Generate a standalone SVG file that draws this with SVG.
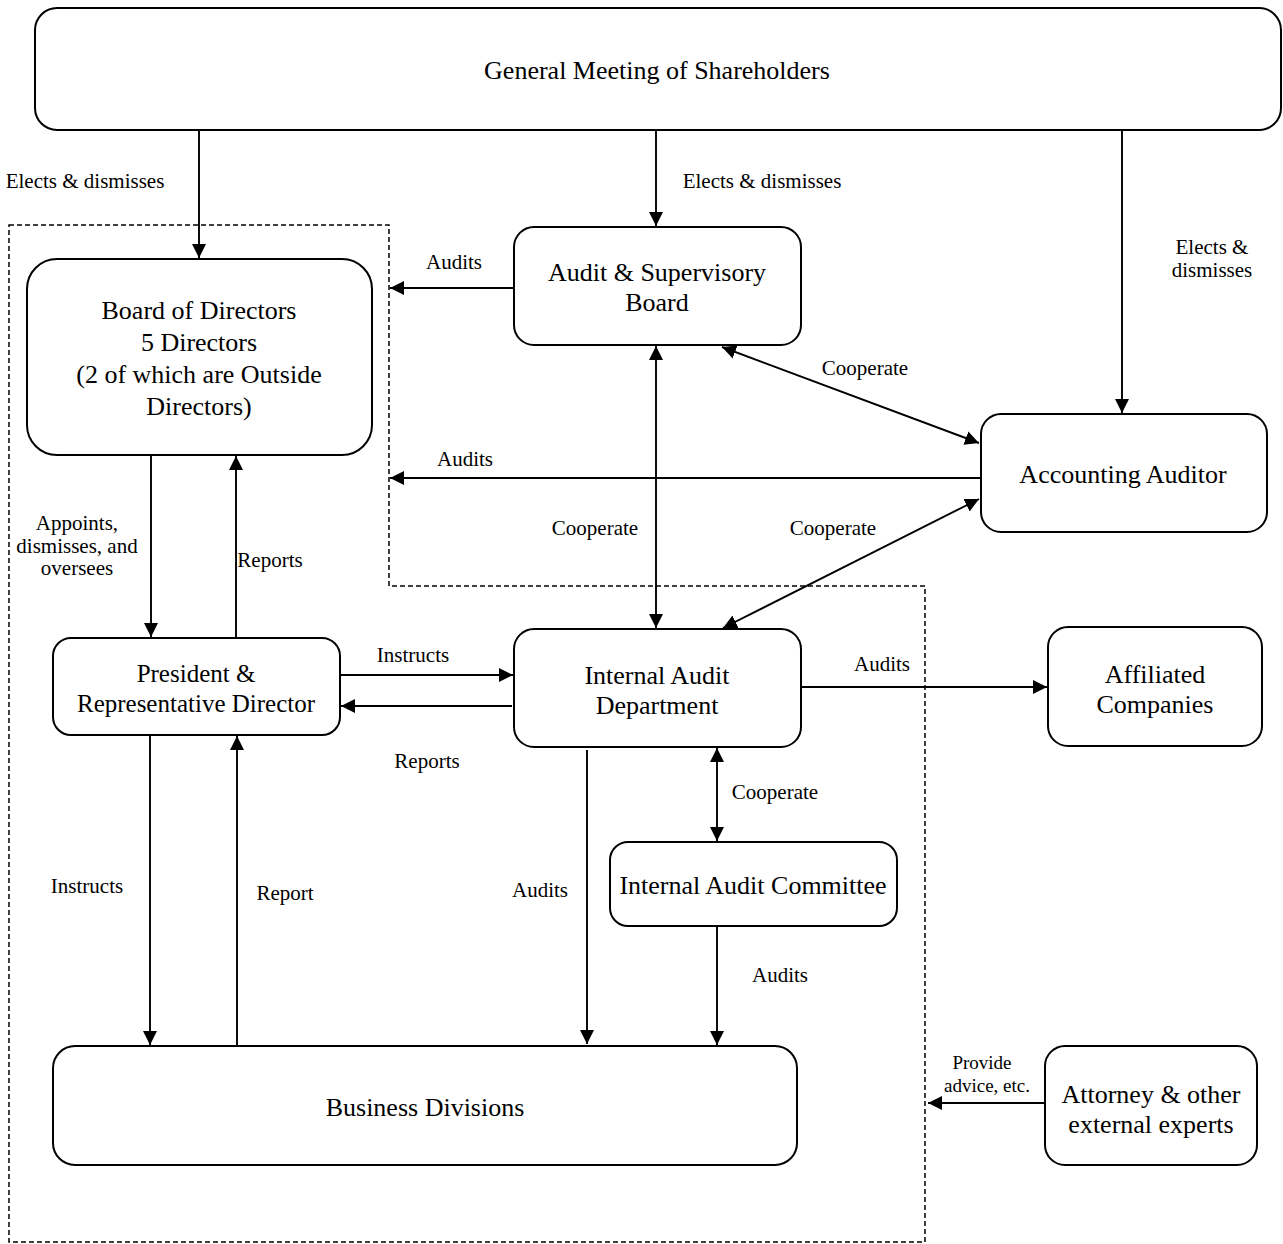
<svg xmlns="http://www.w3.org/2000/svg" width="1283" height="1244" viewBox="0 0 1283 1244">
<style>
.node rect{fill:#fff;stroke:#000;stroke-width:2}
.nt{font-family:"Liberation Serif","Times New Roman",serif;font-size:26px;text-anchor:middle;fill:#000}
.lb{font-family:"Liberation Serif","Times New Roman",serif;font-size:21px;text-anchor:middle;fill:#000}
.sm{font-size:19px}
.c line{stroke:#000;stroke-width:1.9;fill:none}
.one{marker-end:url(#arr)}
.two{marker-start:url(#arr);marker-end:url(#arr)}
.dash{fill:none;stroke:#000;stroke-width:1.5;stroke-dasharray:5 3}
</style>
<defs>
<marker id="arr" markerUnits="userSpaceOnUse" markerWidth="15" markerHeight="15" refX="14" refY="7.5" orient="auto-start-reverse" viewBox="0 0 15 15">
<path d="M0,0.5 L14,7.5 L0,14.5 z" fill="#000"/>
</marker>
</defs>
<rect width="1283" height="1244" fill="#fff"/>
<path id="boundary" class="dash" d="M9,225 H389 V586 H925 V1242 H9 Z"/>

<g id="connectors" class="c">
<line class="one" x1="199" y1="131" x2="199" y2="258"/>
<line class="one" x1="656" y1="131" x2="656" y2="226"/>
<line class="one" x1="1122" y1="131" x2="1122" y2="413"/>
<line class="one" x1="514" y1="288" x2="390" y2="288"/>
<line class="one" x1="980" y1="478" x2="390" y2="478"/>
<line class="two" x1="656" y1="346" x2="656" y2="628"/>
<line class="two" x1="722" y1="347" x2="979" y2="443"/>
<line class="two" x1="723" y1="628" x2="979" y2="499"/>
<line class="one" x1="151" y1="456" x2="151" y2="637"/>
<line class="one" x1="236" y1="637" x2="236" y2="456"/>
<line class="one" x1="341" y1="675" x2="513" y2="675"/>
<line class="one" x1="512" y1="706" x2="341" y2="706"/>
<line class="one" x1="150" y1="736" x2="150" y2="1045"/>
<line class="one" x1="237" y1="1046" x2="237" y2="736"/>
<line class="one" x1="587" y1="750" x2="587" y2="1044"/>
<line class="two" x1="717" y1="748" x2="717" y2="841"/>
<line class="one" x1="717" y1="926" x2="717" y2="1045"/>
<line class="one" x1="801" y1="687" x2="1047" y2="687"/>
<line class="one" x1="1045" y1="1103" x2="928" y2="1103"/>
</g>

<g id="connector-labels">
<text class="lb" x="85" y="188">Elects &amp; dismisses</text>
<text class="lb" x="762" y="188">Elects &amp; dismisses</text>
<text class="lb" x="1212" y="254">Elects &amp;</text>
<text class="lb" x="1212" y="277">dismisses</text>
<text class="lb" x="454" y="269">Audits</text>
<text class="lb" x="465" y="466">Audits</text>
<text class="lb" x="865" y="375">Cooperate</text>
<text class="lb" x="595" y="535">Cooperate</text>
<text class="lb" x="833" y="535">Cooperate</text>
<text class="lb" x="77" y="530">Appoints,</text>
<text class="lb" x="77" y="553">dismisses, and</text>
<text class="lb" x="77" y="575">oversees</text>
<text class="lb" x="270" y="567">Reports</text>
<text class="lb" x="413" y="662">Instructs</text>
<text class="lb" x="427" y="768">Reports</text>
<text class="lb" x="87" y="893">Instructs</text>
<text class="lb" x="285" y="900">Report</text>
<text class="lb" x="540" y="897">Audits</text>
<text class="lb" x="775" y="799">Cooperate</text>
<text class="lb" x="780" y="982">Audits</text>
<text class="lb" x="882" y="671">Audits</text>
<text class="lb sm" x="982" y="1069">Provide</text>
<text class="lb sm" x="987" y="1092">advice, etc.</text>
</g>

<g id="general-meeting" class="node">
<rect x="35" y="8" width="1246" height="122" rx="22"/>
<text class="nt" x="657" y="79">General Meeting of Shareholders</text>
</g>
<g id="board" class="node">
<rect x="27" y="259" width="345" height="196" rx="30"/>
<text class="nt" x="199" y="319">Board of Directors</text>
<text class="nt" x="199" y="351">5 Directors</text>
<text class="nt" x="199" y="383">(2 of which are Outside</text>
<text class="nt" x="199" y="415">Directors)</text>
</g>
<g id="audit-supervisory-board" class="node">
<rect x="514" y="227" width="287" height="118" rx="20"/>
<text class="nt" x="657" y="281">Audit &amp; Supervisory</text>
<text class="nt" x="657" y="311">Board</text>
</g>
<g id="accounting-auditor" class="node">
<rect x="981" y="414" width="286" height="118" rx="20"/>
<text class="nt" x="1123" y="483">Accounting Auditor</text>
</g>
<g id="president" class="node">
<rect x="53" y="638" width="287" height="97" rx="18"/>
<text class="nt" x="196" y="682" style="font-size:25px">President &amp;</text>
<text class="nt" x="196" y="712" style="font-size:25px">Representative Director</text>
</g>
<g id="internal-audit-department" class="node">
<rect x="514" y="629" width="287" height="118" rx="20"/>
<text class="nt" x="657" y="684">Internal Audit</text>
<text class="nt" x="657" y="714">Department</text>
</g>
<g id="affiliated-companies" class="node">
<rect x="1048" y="627" width="214" height="119" rx="20"/>
<text class="nt" x="1155" y="683">Affiliated</text>
<text class="nt" x="1155" y="713">Companies</text>
</g>
<g id="internal-audit-committee" class="node">
<rect x="610" y="842" width="287" height="84" rx="18"/>
<text class="nt" x="753" y="894">Internal Audit Committee</text>
</g>
<g id="business-divisions" class="node">
<rect x="53" y="1046" width="744" height="119" rx="22"/>
<text class="nt" x="425" y="1116">Business Divisions</text>
</g>
<g id="attorney" class="node">
<rect x="1045" y="1046" width="212" height="119" rx="20"/>
<text class="nt" x="1151" y="1103">Attorney &amp; other</text>
<text class="nt" x="1151" y="1133">external experts</text>
</g>
</svg>
